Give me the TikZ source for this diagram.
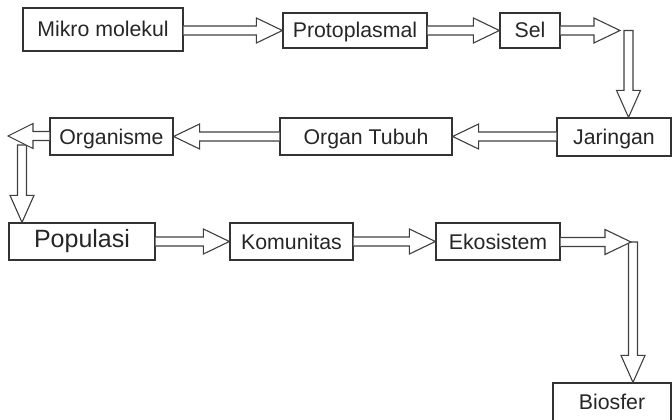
\documentclass[tikz,border=0pt]{standalone}
\usepackage{fontspec}
\setmainfont{Liberation Sans}
\usetikzlibrary{calc}
\newcommand\hblk[3]{\draw[blk] ($(#1)+(0,4.5pt)$) -- ($(#2)+(#3,4.5pt)$) -- ($(#2)+(#3,12.5pt)$) -- (#2) -- ($(#2)+(#3,-12.5pt)$) -- ($(#2)+(#3,-4.5pt)$) -- ($(#1)+(0,-4.5pt)$);}
\newcommand\vblk[2]{\draw[blk] ($(#1)+(-4.5pt,0)$) -- ($(#2)+(-4.5pt,27pt)$) -- ($(#2)+(-12pt,27pt)$) -- (#2) -- ($(#2)+(12pt,27pt)$) -- ($(#2)+(4.5pt,27pt)$) -- ($(#1)+(4.5pt,0)$) -- cycle;}
\begin{document}
\begin{tikzpicture}[x=1pt,y=-1pt,
  box/.style={draw=black!80, line width=1.2pt, minimum height=37pt, inner sep=0pt,
    font=\fontsize{21.3}{21.3}\selectfont, text=black!85, text height=15pt, text depth=0pt},
  blk/.style={draw=black!75, line width=1.1pt, fill=white, line join=miter}]
\useasboundingbox (0,0) rectangle (672,420);
\node[box, minimum width=160pt, minimum height=43pt] (mikro) at (103,29.5) {Mikro molekul};
\node[box, minimum width=144pt, minimum height=35pt] (proto) at (355,30.5) {Protoplasmal};
\node[box, minimum width=60pt, minimum height=35pt] (sel) at (530,30.5) {Sel};
\node[box, minimum width=114pt, minimum height=38pt] (jar) at (614,137) {Jaringan};
\node[box, minimum width=172pt] (organ) at (366,136.5) {Organ Tubuh};
\node[box, minimum width=123pt] (orgm) at (111.5,136.5) {Organisme};
\node[box, minimum width=146pt, font=\fontsize{25}{25}\selectfont, text height=18pt, text depth=6pt] (pop) at (82,241.5) {Populasi};
\node[box, minimum width=123pt] (kom) at (291.5,241.5) {Komunitas};
\node[box, minimum width=124pt] (eko) at (498,241.5) {Ekosistem};
\node[box, minimum width=118pt, minimum height=38pt] (bio) at (612,402) {Biosfer};
\coordinate (c1) at (620,30.5);
\coordinate (v1) at (628.5,30.5);
\coordinate (c2) at (8,136);
\coordinate (v2) at (22,145);
\coordinate (c3) at (631,242);
\coordinate (v3) at (633,242);
\hblk{mikro.east |- proto.west}{proto.west}{-26pt}
\hblk{proto.east}{sel.west}{-26pt}
\vblk{v1}{v1 |- jar.north}
\hblk{sel.east |- c1}{c1}{-26pt}
\hblk{jar.west |- organ.east}{organ.east}{26pt}
\hblk{organ.west}{orgm.east}{26pt}
\vblk{v2}{v2 |- pop.north}
\hblk{orgm.west |- c2}{c2}{25pt}
\hblk{pop.east |- kom.west}{kom.west}{-26pt}
\hblk{kom.east}{eko.west}{-26pt}
\vblk{v3}{v3 |- bio.north}
\hblk{eko.east |- c3}{c3}{-26pt}
\end{tikzpicture}
\end{document}
